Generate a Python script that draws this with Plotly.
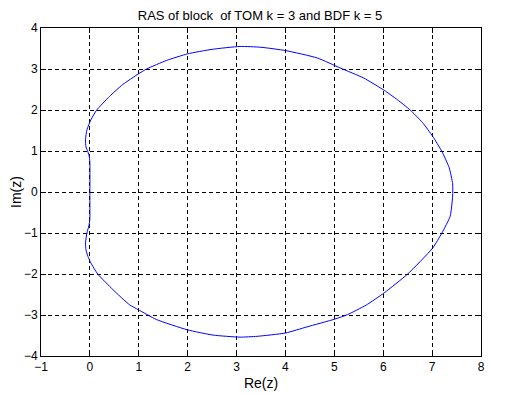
import plotly.graph_objects as go

# Boundary of the region of absolute stability
re_z = [7.42, 7.42, 7.35, 7.20, 7.01, 6.80, 6.55, 6.29, 6.02, 5.60, 5.13, 4.65, 4.00, 3.50,
        3.07, 2.50, 2.00, 1.57, 1.16, 0.99, 0.67, 0.40, 0.14, 0.02, -0.06, -0.09, -0.08,
        -0.04, -0.01, 0.00, 0.00, 0.00, 0.00, -0.02, -0.06, -0.09, -0.08, -0.04, 0.02, 0.16, 0.47,
        0.81, 0.99, 1.36, 1.99, 2.52, 3.07, 3.42, 4.00, 4.44, 5.01, 5.27, 5.65, 6.02, 6.50, 7.01,
        7.20, 7.37, 7.42]
im_z = [-0.10, 0.20, 0.59, 0.99, 1.36, 1.70, 2.00, 2.25, 2.48, 2.78, 3.02, 3.27, 3.45, 3.53,
        3.55, 3.48, 3.37, 3.21, 3.00, 2.88, 2.62, 2.33, 2.00, 1.76, 1.52, 1.28, 1.10,
        0.98, 0.85, 0.70, 0.00, -0.40, -0.65, -0.82, -1.00, -1.24, -1.41, -1.57, -1.73, -2.00, -2.38,
        -2.75, -2.87, -3.11, -3.36, -3.49, -3.54, -3.52, -3.44, -3.29, -3.10, -2.99, -2.76, -2.46, -2.00, -1.37,
        -1.00, -0.59, -0.10]

x_ticks = [-1, 0, 1, 2, 3, 4, 5, 6, 7, 8]
y_ticks = [-4, -3, -2, -1, 0, 1, 2, 3, 4]

fig = go.Figure()
fig.add_trace(go.Scatter(x=re_z, y=im_z, mode="lines",
                         line=dict(color="#0000ff", width=1, shape="spline", smoothing=0.5),
                         showlegend=False))

axis_common = dict(
    showline=True, linecolor="black", linewidth=1, mirror="ticks",
    ticks="inside", ticklen=5, tickcolor="black",
    showgrid=True, gridcolor="black", gridwidth=1, griddash="4px,3px",
    zeroline=False, automargin=False,
    tickfont=dict(family="Liberation Sans, Arial", size=12, color="black"),
)

# the page body adds an 8px offset, compensated in the margins
fig.update_layout(
    width=506, height=395,
    paper_bgcolor="white", plot_bgcolor="white",
    margin=dict(l=33, r=33, t=20, b=47),
    title=dict(text="RAS of block  of TOM k = 3 and BDF k = 5", x=252 / 506, xanchor="center",
               y=1 - 7 / 395, yanchor="middle",
               font=dict(family="Liberation Sans, Arial", size=13, color="black")),
    font=dict(family="Liberation Sans, Arial", size=12, color="black"),
    xaxis=dict(range=[-1, 8], tickvals=x_ticks, title=dict(text="Re(z)", standoff=4), **axis_common),
    yaxis=dict(range=[-4, 4], tickvals=y_ticks, title=dict(text="Im(z)", standoff=0), **axis_common),
)

fig.write_html("out.html")
